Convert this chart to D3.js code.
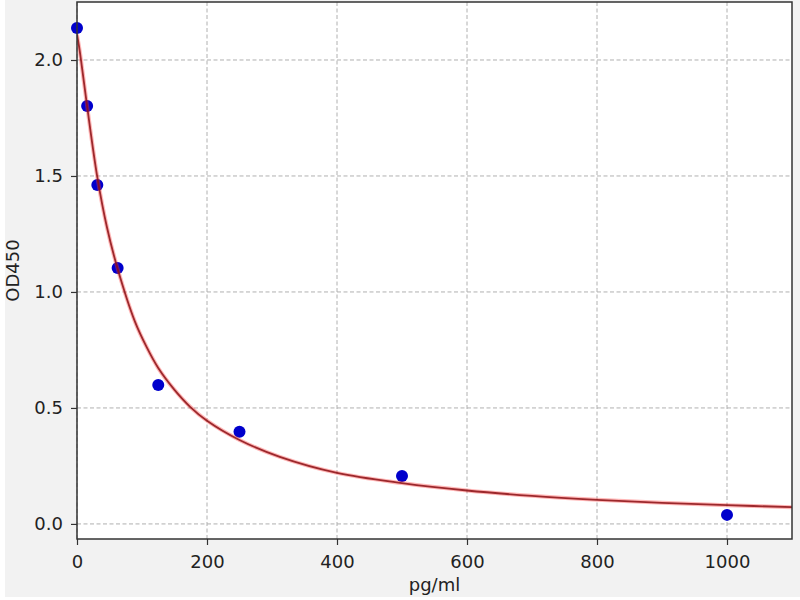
<!DOCTYPE html>
<html>
<head>
<meta charset="utf-8">
<script src="https://cdn.jsdelivr.net/npm/d3@7"></script>
<style>
  html, body { margin: 0; padding: 0; background: #ffffff; }
  svg { display: block; font-family: "DejaVu Sans", sans-serif; }
</style>
</head>
<body>
<svg id="chart" width="800" height="600"></svg>
<script>
// Standard points (concentration pg/ml, OD450)
const concentrations = [0, 15.6, 31.25, 62.5, 125, 250, 500, 1000];
const odValues = [2.138, 1.802, 1.461, 1.103, 0.599, 0.397, 0.207, 0.039];

// Fitted curve
const curveX = [0, 3.9, 7.8, 15.6, 31.25, 46, 62.5, 89, 107, 125, 150, 174, 200, 250, 312, 400, 500, 600, 700, 800, 900, 1000, 1100];
const curveY = [2.11, 2.045, 1.965, 1.80, 1.495, 1.28, 1.10, 0.873, 0.763, 0.672, 0.578, 0.505, 0.445, 0.362, 0.289, 0.22, 0.176, 0.144, 0.121, 0.104, 0.091, 0.081, 0.072];

const xTicks = [0, 200, 400, 600, 800, 1000];
const yTicks = [0, 0.5, 1.0, 1.5, 2.0];
const xLabel = "pg/ml";
const yLabel = "OD450";

const svg = d3.select("#chart");
const m = { left: 77, right: 792, top: 2, bottom: 539 };
const FS = "18px";

svg.append("rect").attr("x", 5).attr("y", 0).attr("width", 795).attr("height", 597).attr("fill", "#f2f2f2");
svg.append("rect").attr("x", m.left).attr("y", m.top).attr("width", m.right - m.left).attr("height", m.bottom - m.top).attr("fill", "#ffffff");

const x = d3.scaleLinear().domain([0, 1100]).range([m.left, m.right]);
const y = d3.scaleLinear().domain([-0.065, 2.25]).range([m.bottom, m.top]);

// grid
const grid = svg.append("g");
grid.selectAll("line.gx").data(xTicks).join("line")
  .attr("x1", d => x(d)).attr("x2", d => x(d)).attr("y1", m.top).attr("y2", m.bottom)
  .attr("stroke", "#b0b0b0").attr("stroke-width", 1).attr("stroke-dasharray", "4,2.5");
grid.selectAll("line.gy").data(yTicks).join("line")
  .attr("y1", d => y(d)).attr("y2", d => y(d)).attr("x1", m.left).attr("x2", m.right)
  .attr("stroke", "#b0b0b0").attr("stroke-width", 1).attr("stroke-dasharray", "4,2.5");

// axes
const xAxis = d3.axisBottom(x).tickValues(xTicks).tickFormat(d3.format("d")).tickSize(6).tickPadding(10);
const yAxis = d3.axisLeft(y).tickValues(yTicks).tickFormat(d3.format(".1f")).tickSize(6).tickPadding(8);
const gx = svg.append("g").attr("transform", `translate(0,${m.bottom})`).call(xAxis);
const gy = svg.append("g").attr("transform", `translate(${m.left},0)`).call(yAxis);
[gx, gy].forEach(g => {
  g.attr("font-size", null).attr("font-family", null);
  g.select(".domain").remove();
  g.selectAll(".tick line").attr("stroke", "#333").attr("stroke-width", 1.2);
  g.selectAll(".tick text").attr("fill", "#222").attr("font-size", FS).attr("font-family", "DejaVu Sans, sans-serif");
});

// points
const pts = concentrations.map((c, i) => ({ c, v: odValues[i] }));
svg.append("g").selectAll("circle").data(pts).join("circle")
  .attr("cx", d => x(d.c)).attr("cy", d => y(d.v)).attr("r", 6)
  .attr("fill", "#0000cc");

// curve
const cdata = curveX.map((c, i) => ({ c, v: curveY[i] }));
const line = d3.line().x(d => x(d.c)).y(d => y(d.v)).curve(d3.curveCatmullRom.alpha(0.5));
svg.append("clipPath").attr("id", "clip").append("rect")
  .attr("x", m.left).attr("y", m.top).attr("width", m.right - m.left).attr("height", m.bottom - m.top);
svg.append("path").datum(cdata).attr("d", line).attr("clip-path", "url(#clip)")
  .attr("fill", "none").attr("stroke", "#ff3030").attr("stroke-opacity", 0.35).attr("stroke-width", 4);
svg.append("path").datum(cdata).attr("d", line).attr("clip-path", "url(#clip)")
  .attr("fill", "none").attr("stroke", "#8b0f14").attr("stroke-opacity", 0.85).attr("stroke-width", 1.8);

// frame
svg.append("rect").attr("x", m.left).attr("y", m.top).attr("width", m.right - m.left).attr("height", m.bottom - m.top)
  .attr("fill", "none").attr("stroke", "#333").attr("stroke-width", 1.5);

// labels
svg.append("text").attr("x", (m.left + m.right) / 2).attr("y", 591).attr("text-anchor", "middle")
  .attr("font-size", FS).attr("fill", "#222").text(xLabel);
svg.append("text").attr("transform", `translate(19,${(m.top + m.bottom) / 2}) rotate(-90)`).attr("text-anchor", "middle")
  .attr("font-size", FS).attr("fill", "#222").text(yLabel);
</script>
</body>
</html>
